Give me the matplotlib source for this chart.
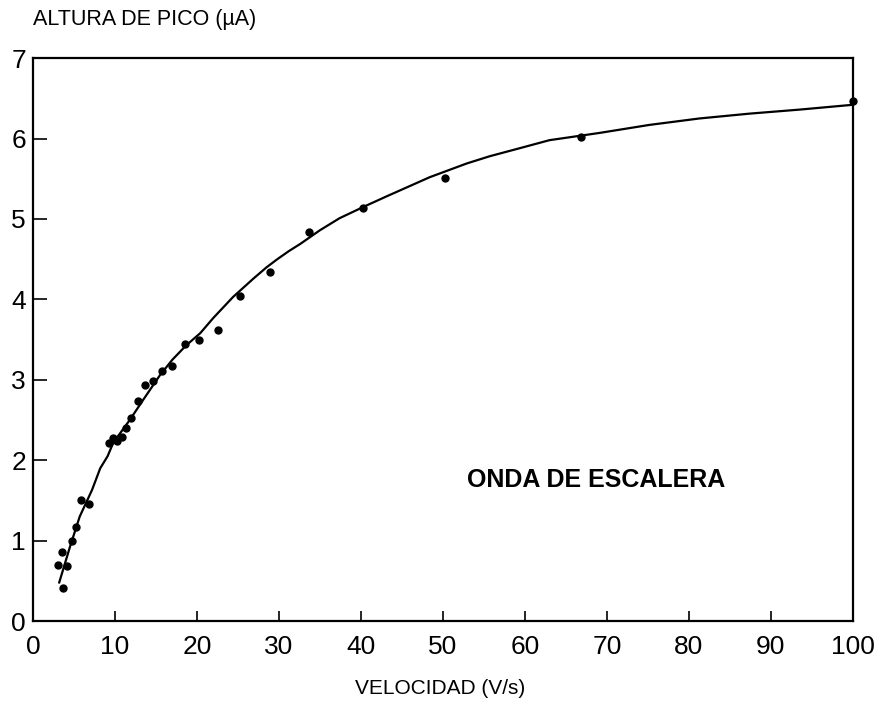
import matplotlib
matplotlib.use("Agg")
from matplotlib import pyplot as plt

plt.rcParams['font.family'] = ['Liberation Sans', 'DejaVu Sans']

# Measured points (velocity V/s, peak height uA)
vel_pts = [3.0, 3.5, 4.2, 3.7, 4.7, 5.2, 5.9, 6.8, 9.3, 9.8, 10.2, 10.8, 11.4, 12.0,
           12.8, 13.7, 14.6, 15.7, 17.0, 18.5, 20.2, 22.6, 25.3, 28.9, 33.7, 40.3,
           50.2, 66.8, 100.0]
alt_pts = [0.70, 0.86, 0.69, 0.41, 1.00, 1.17, 1.51, 1.46, 2.22, 2.28, 2.24, 2.29, 2.40, 2.52,
           2.74, 2.93, 2.98, 3.11, 3.17, 3.44, 3.49, 3.62, 4.04, 4.34, 4.84, 5.14,
           5.51, 6.02, 6.47]

# Hand-drawn fitted curve
vel_line = [3.2, 4.5, 5.7, 7.2, 8.2, 9.1, 9.8, 11.8, 13.5, 15.5, 17.0, 18.7, 20.4, 22.0,
            24.4, 26.9, 28.5, 29.8, 31.2, 32.6, 35.0, 37.4, 40.3, 43.1, 48.4, 52.9,
            55.7, 59.0, 63.0, 69.1, 75.2, 81.3, 87.4, 93.5, 100.0]
alt_line = [0.48, 0.92, 1.30, 1.63, 1.90, 2.05, 2.22, 2.50, 2.76, 3.06, 3.25, 3.43, 3.58, 3.77,
            4.03, 4.26, 4.40, 4.50, 4.60, 4.69, 4.86, 5.01, 5.15, 5.28, 5.52, 5.69,
            5.78, 5.87, 5.98, 6.07, 6.17, 6.25, 6.31, 6.36, 6.42]

fig = plt.figure(figsize=(8.75, 7.09), dpi=100)
ax = fig.add_axes([0.0377, 0.124, 0.937, 0.794])

ax.plot(vel_line, alt_line, color='black', linewidth=1.6, zorder=2)
ax.plot(vel_pts, alt_pts, 'o', color='black', markersize=5, zorder=3, clip_on=False)

ax.set_xlim(0, 100)
ax.set_ylim(0, 7)
ax.set_xticks(range(0, 101, 10))
ax.set_yticks(range(0, 8))
ax.tick_params(direction='in', width=1.2, labelsize=19)
ax.tick_params(axis='x', length=7.5, pad=10)
ax.tick_params(axis='y', length=10, pad=5)
for s in ax.spines.values():
    s.set_linewidth(1.6)

ax.text(52.9, 1.75, 'ONDA DE ESCALERA', fontsize=18, fontweight='bold', va='center')
fig.text(33 / 875, 1 - 20 / 709, 'ALTURA DE PICO (µA)', fontsize=15.5, va='center', ha='left')
fig.text(440 / 875, 1 - 688 / 709, 'VELOCIDAD (V/s)', fontsize=15, va='center', ha='center')

fig.savefig('out.png', dpi=100)
